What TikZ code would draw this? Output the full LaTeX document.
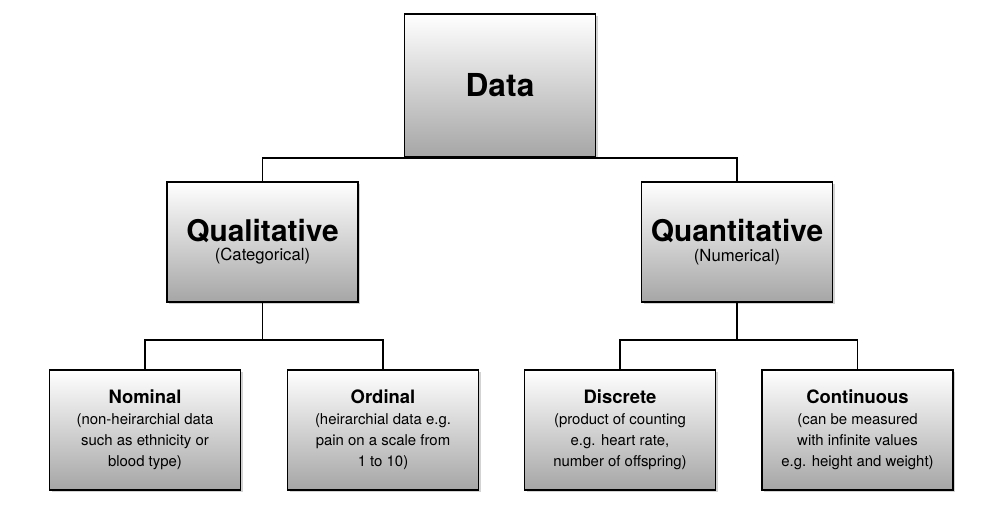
\documentclass[tikz,border=0pt]{standalone}
\usepackage{fontspec}
\setmainfont{TeX Gyre Heros}
\usetikzlibrary{positioning,shadows}

\begin{document}
\begin{tikzpicture}[x=0.02cm,y=-0.02cm,thick,
                    box/.style={draw=black,line width=0.9pt,top color=white,bottom color=black!35,
                                drop shadow={shadow xshift=1.2pt,shadow yshift=-1.2pt,opacity=0.35},
                                minimum width=3.82cm,minimum height=2.4cm,align=center,inner sep=2pt},
                    link/.style={draw=black,line width=0.9pt}]
 \useasboundingbox (0,0) rectangle (1000,512);

 \node[box,minimum height=2.86cm] (data) at (500,85.5) {\fontsize{18}{20}\selectfont\bfseries Data};

 \node[box] (qual) at (262.5,242) {\fontsize{17}{19}\selectfont\bfseries Qualitative\\[-1pt]\fontsize{9.5}{11}\selectfont (Categorical)};

 \node[box] (quant) at (737,242) {\fontsize{17}{19}\selectfont\bfseries Quantitative\\[-1pt]\fontsize{9.5}{11}\selectfont (Numerical)};

 \node[box] (nom) at (145,430) {\fontsize{10.5}{13}\selectfont\bfseries Nominal\\\fontsize{8.5}{10.5}\selectfont (non-heirarchial data\\\fontsize{8.5}{10.5}\selectfont such as ethnicity or\\\fontsize{8.5}{10.5}\selectfont blood type)};

 \node[box] (ord) at (383,430) {\fontsize{10.5}{13}\selectfont\bfseries Ordinal\\\fontsize{8.5}{10.5}\selectfont (heirarchial data e.g.\\\fontsize{8.5}{10.5}\selectfont pain on a scale from\\\fontsize{8.5}{10.5}\selectfont 1 to 10)};

 \node[box] (disc) at (620,430) {\fontsize{10.5}{13}\selectfont\bfseries Discrete\\\fontsize{8.5}{10.5}\selectfont (product of counting\\\fontsize{8.5}{10.5}\selectfont e.g. heart rate,\\\fontsize{8.5}{10.5}\selectfont number of offspring)};

 \node[box] (cont) at (857.5,430) {\fontsize{10.5}{13}\selectfont\bfseries Continuous\\\fontsize{8.5}{10.5}\selectfont (can be measured\\\fontsize{8.5}{10.5}\selectfont with infinite values\\\fontsize{8.5}{10.5}\selectfont e.g. height and weight)};

 \coordinate (qualfork) at (262.5,340);
 \coordinate (quantfork) at (737,340);

 \path[link]
   (data.south) -| (qual.north)
   (data.south) -| (quant.north)
   (qual.south) -- (qualfork)
   (qualfork) -| (nom.north)
   (qualfork) -| (ord.north)
   (quant.south) -- (quantfork)
   (quantfork) -| (disc.north)
   (quantfork) -| (cont.north);
\end{tikzpicture}
\end{document}
